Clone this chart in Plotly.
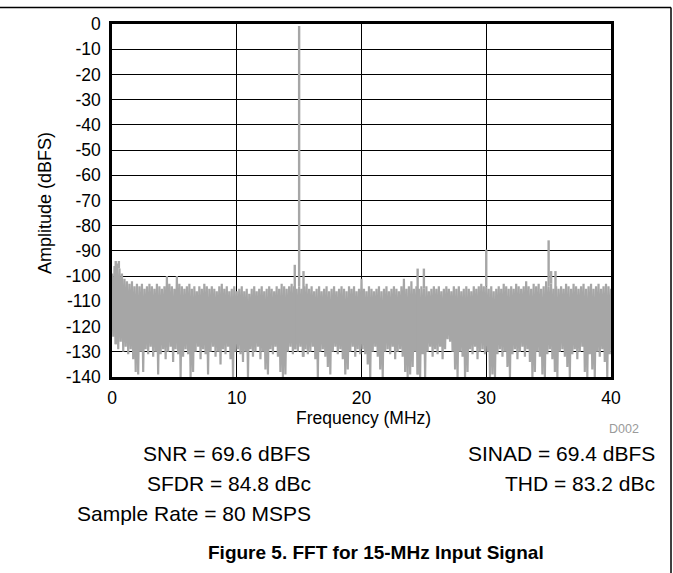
import plotly.graph_objects as go

# Noise-floor readings: local maxima at 0.0, 0.2, ... 40.0 MHz (dBFS)
noise_peaks = [
    -99, -96, -95, -97, -99, -101, -102, -103, -102, -104,
    -103, -104, -103, -105, -104, -103, -104, -105, -103, -104,
    -105, -104, -100, -103, -104, -105, -100, -103, -104, -105,
    -104, -103, -105, -104, -106, -104, -105, -103, -104, -105,
    -104, -105, -106, -104, -103, -105, -104, -106, -105, -104,
    -106, -105, -104, -106, -105, -107, -105, -104, -106, -105,
    -104, -106, -105, -104, -105, -106, -104, -105, -103, -104,
    -105, -104, -103, -104, -105, -104, -105, -104, -103, -105,
    -104, -106, -105, -104, -106, -105, -104, -106, -105, -104,
    -106, -105, -104, -105, -106, -104, -105, -104, -106, -105,
    -101, -105, -106, -104, -105, -106, -105, -104, -106, -105,
    -104, -106, -105, -104, -105, -106, -104, -101, -105, -104,
    -102, -105, -104, -105, -104, -105, -104, -106, -105, -104,
    -105, -104, -106, -105, -104, -105, -106, -104, -105, -104,
    -106, -105, -104, -105, -106, -104, -105, -104, -103, -104,
    -104, -105, -104, -106, -105, -104, -105, -103, -104, -105,
    -104, -105, -103, -104, -105, -104, -102, -104, -105, -103,
    -104, -103, -105, -104, -102, -104, -103, -105, -104, -105,
    -104, -105, -103, -104, -105, -103, -104, -105, -104, -103,
    -105, -104, -103, -105, -104, -103, -105, -104, -103, -104,
    -105,
]

# Noise-floor readings: local minima at 0.1, 0.3, ... 39.9 MHz (dBFS)
noise_troughs = [
    -124, -127, -129, -126, -130, -128, -131, -129, -133, -138,
    -139, -130, -138, -129, -131, -128, -132, -130, -139, -131,
    -129, -133, -130, -128, -134, -129, -131, -140, -132, -129,
    -131, -140, -138, -130, -128, -133, -129, -131, -139, -130,
    -128, -132, -130, -135, -129, -131, -128, -133, -140, -130,
    -129, -131, -134, -130, -140, -129, -132, -130, -128, -133,
    -130, -137, -139, -129, -131, -128, -132, -138, -140, -139,
    -130, -128, -131, -129, -130, -128, -132, -129, -131, -130,
    -128, -133, -140, -130, -129, -132, -136, -139, -130, -128,
    -131, -129, -133, -139, -137, -130, -128, -132, -129, -131,
    -129, -131, -135, -140, -130, -128, -132, -137, -140, -130,
    -129, -131, -128, -133, -130, -129, -132, -138, -140, -139,
    -136, -130, -139, -140, -131, -140, -130, -128, -132, -129,
    -131, -128, -133, -129, -125, -126, -130, -137, -140, -130,
    -132, -140, -138, -129, -131, -128, -133, -130, -129, -131,
    -130, -140, -139, -140, -131, -129, -132, -130, -136, -140,
    -131, -129, -133, -130, -128, -132, -129, -134, -140, -138,
    -130, -132, -139, -140, -131, -129, -133, -138, -140, -130,
    -129, -132, -136, -140, -131, -129, -133, -130, -128, -138,
    -140, -131, -137, -140, -130, -132, -129, -134, -140, -131,
]

# Fundamental, harmonics and other spurs (MHz, dBFS)
spur_freqs = [0.3, 0.55, 14.65, 15.0, 15.35, 24.5, 25.0, 30.0, 35.0, 35.2, 35.55]
spur_amps = [-94, -94, -95.5, -0.8, -98, -97, -97, -89.5, -85.8, -98, -98]

y_tick_vals = [0, -10, -20, -30, -40, -50, -60, -70, -80, -90, -100, -110, -120, -130, -140]
y_tick_text = ["0", "-10", "-20", "-30", "-40", "-50", "-60", "-70", "-80", "-90",
               "-100", "-110", "-120", "-130", "-140"]
x_tick_vals = [0, 10, 20, 30, 40]

stats_left = ["SNR = 69.6 dBFS", "SFDR = 84.8 dBc", "Sample Rate = 80 MSPS"]
stats_right = ["SINAD = 69.4 dBFS", "THD = 83.2 dBc"]

# Interleave the noise maxima and minima into one spectrum trace
noise = {}
for i, a in enumerate(noise_peaks):
    noise[round(0.2 * i, 2)] = a
for i, a in enumerate(noise_troughs):
    noise[round(0.1 + 0.2 * i, 2)] = a
freqs = sorted(noise)
amps = [noise[f] for f in freqs]

# Each spur rises from the noise reading nearest to it
spur_x, spur_y = [], []
for f, a in zip(spur_freqs, spur_amps):
    nearest = min(freqs, key=lambda q: abs(q - f))
    spur_x += [f, f, None]
    spur_y += [noise[nearest], a, None]

W, H = 673, 573
L, R, T, B = 112, 611, 24, 377


def px_x(px):
    return (px - L) / (R - L)


def px_y(py):
    return (B - py) / (B - T)


FONT = "Liberation Sans, Arial, sans-serif"
GRAY = "#a6a6a6"

fig = go.Figure()
fig.add_trace(go.Scatter(
    x=freqs, y=amps, mode="lines",
    line=dict(color=GRAY, width=2.2),
    hoverinfo="skip", showlegend=False,
))
fig.add_trace(go.Scatter(
    x=spur_x, y=spur_y, mode="lines",
    line=dict(color=GRAY, width=2.4),
    hoverinfo="skip", showlegend=False,
))

axis_common = dict(
    showgrid=True, gridcolor="black", gridwidth=1,
    showline=True, linecolor="black", linewidth=2.5, mirror=True,
    zeroline=False, ticks="",
    tickfont=dict(family=FONT, size=17.5, color="black"),
)

fig.update_layout(
    width=W, height=H,
    margin=dict(l=L, r=W - R, t=T, b=H - B, pad=0),
    paper_bgcolor="white", plot_bgcolor="white",
    xaxis=dict(range=[0, 40], tickvals=x_tick_vals, ticklabelstandoff=3, **axis_common),
    yaxis=dict(range=[-140, 0], tickvals=y_tick_vals, ticktext=y_tick_text,
               ticklabelstandoff=5, **axis_common),
)

annotations = [
    dict(text="Frequency (MHz)", x=px_x(363), y=px_y(418), font=dict(size=17.5)),
    dict(text="Amplitude (dBFS)", x=px_x(45), y=px_y(203), textangle=-90, font=dict(size=18)),
    dict(text="D002", x=px_x(641), y=px_y(429), xanchor="right",
         font=dict(size=12.5, color="#9a9a9a")),
]
for i, s in enumerate(stats_left):
    annotations.append(dict(text=s, x=px_x(313), y=px_y(453 + 30 * i), xanchor="right",
                            font=dict(size=21)))
for i, s in enumerate(stats_right):
    annotations.append(dict(text=s, x=px_x(657), y=px_y(453 + 30 * i), xanchor="right",
                            font=dict(size=21)))
annotations.append(dict(text="<b>Figure 5. FFT for 15-MHz Input Signal</b>",
                        x=px_x(376), y=px_y(552), font=dict(size=19)))

for a in annotations:
    a.setdefault("xanchor", "center")
    a.update(xref="paper", yref="paper", yanchor="middle", showarrow=False)
    a["font"] = dict(family=FONT, color=a["font"].get("color", "black"), size=a["font"]["size"])
fig.update_layout(annotations=annotations)

# Page frame: rule along the top and down the right side
fig.add_shape(type="line", xref="paper", yref="paper",
              x0=px_x(0), x1=px_x(671), y0=px_y(7.5), y1=px_y(7.5),
              line=dict(color="black", width=1.5))
fig.add_shape(type="line", xref="paper", yref="paper",
              x0=px_x(671), x1=px_x(671), y0=px_y(7.5), y1=px_y(573),
              line=dict(color="black", width=1.5))

fig.write_html("out.html")
